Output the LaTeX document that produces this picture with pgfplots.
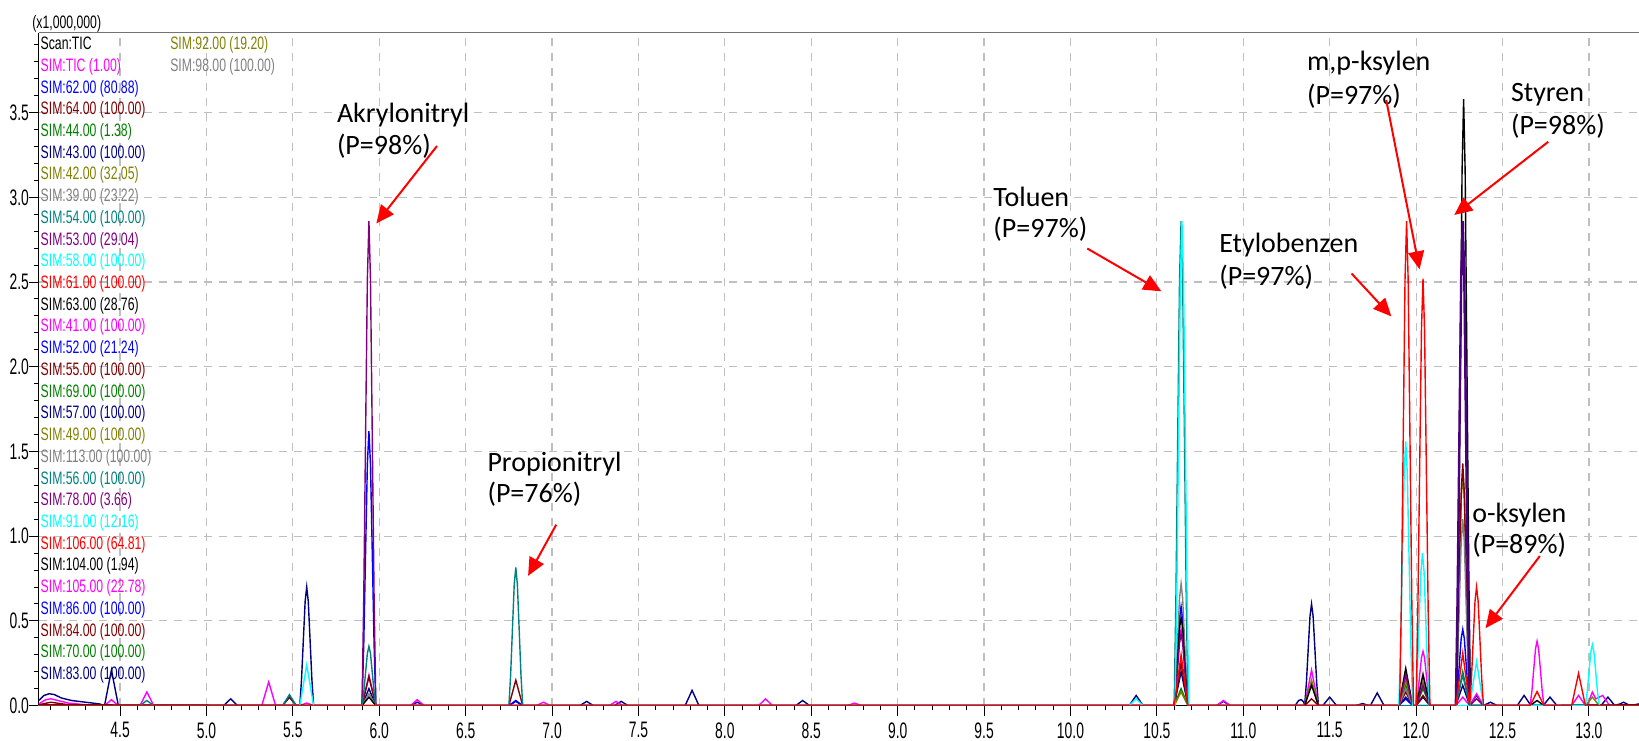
\documentclass[border=0pt]{standalone}
\usepackage{fontspec}
\setmainfont{Liberation Sans}
\newfontfamily\narrowf[FakeStretch=0.68]{Liberation Sans}
\newfontfamily\tickf[FakeStretch=0.62]{Liberation Sans}
\newfontfamily\calib{Carlito}
\usepackage{pgfplots}
\pgfplotsset{compat=1.18}
\usetikzlibrary{arrows.meta}
\definecolor{cNavy}{RGB}{0,0,128}
\definecolor{cBlue}{RGB}{0,0,255}
\definecolor{cMaroon}{RGB}{128,0,0}
\definecolor{cGreen}{RGB}{0,128,0}
\definecolor{cOlive}{RGB}{128,128,0}
\definecolor{cGray}{RGB}{128,128,128}
\definecolor{cTeal}{RGB}{0,128,128}
\definecolor{cPurple}{RGB}{128,0,128}
\definecolor{cCyan}{RGB}{0,255,255}
\definecolor{cRed}{RGB}{255,0,0}
\definecolor{cBlack}{RGB}{0,0,0}
\definecolor{cMagenta}{RGB}{255,0,255}
\definecolor{cIndigo}{RGB}{75,0,130}
\begin{document}
\begin{tikzpicture}
\begin{axis}[
 at={(0pt,0pt)}, anchor=south west,
 scale only axis, width=800.15pt, height=336.3pt,
 xmin=4.029, xmax=13.29, ymin=0, ymax=3.97,
 axis x line=bottom, axis y line=left,
 axis line style={-, black, line width=0.6pt},
 xtick={4.5,5,5.5,6,6.5,7,7.5,8,8.5,9,9.5,10,10.5,11,11.5,12,12.5,13},
 xticklabels={4.5,5.0,5.5,6.0,6.5,7.0,7.5,8.0,8.5,9.0,9.5,10.0,10.5,11.0,11.5,12.0,12.5,13.0},
 ytick={0,0.5,1,1.5,2,2.5,3,3.5},
 yticklabels={0.0,0.5,1.0,1.5,2.0,2.5,3.0,3.5},
 minor xtick={4.1,4.2,...,13.25}, minor ytick={0.1,0.2,...,3.95},
 tick align=outside, major tick length=5pt, minor tick length=2.3pt,
 tick style={black, line width=0.5pt},
 grid=major, major grid style={dash pattern=on 4pt off 3.5pt, line width=0.6pt, color=black!25},
 xticklabel style={font=\tickf\fontsize{11.2}{12}\selectfont, inner sep=0.5pt, yshift=-2.7pt},
 yticklabel style={font=\tickf\fontsize{11.2}{12}\selectfont, inner sep=0pt, xshift=0.3pt},
 every axis plot/.append style={line width=0.7pt, mark=none},
]
% navy
\addplot[cNavy] coordinates {(4.029,0.03) (4.06,0.06) (4.09,0.07) (4.12,0.065) (4.16,0.045) (4.22,0.03) (4.3,0.02) (4.38,0.01)
(4.41,0) (4.43,0.105) (4.45,0.21) (4.47,0.105) (4.49,0)
(5.10,0) (5.12,0.02) (5.14,0.04) (5.16,0.02) (5.18,0)
(5.44,0) (5.46,0.025) (5.48,0.05) (5.50,0.025) (5.52,0)
(5.54,0) (5.55,0.154) (5.562,0.42) (5.571,0.616) (5.58,0.70) (5.589,0.616) (5.598,0.42) (5.61,0.154) (5.62,0)
(5.90,0) (5.92,0.05) (5.94,0.1) (5.96,0.05) (5.98,0)
(6.18,0) (6.20,0.01) (6.22,0.02) (6.24,0.01) (6.26,0)
(6.75,0) (6.77,0.012) (6.79,0.025) (6.81,0.012) (6.83,0)
(7.16,0) (7.18,0.012) (7.20,0.025) (7.22,0.012) (7.24,0)
(7.36,0) (7.38,0.012) (7.40,0.025) (7.42,0.012) (7.44,0)
(7.77,0) (7.79,0.045) (7.81,0.09) (7.83,0.045) (7.85,0)
(8.41,0) (8.43,0.015) (8.45,0.03) (8.47,0.015) (8.49,0)
(10.34,0) (10.36,0.03) (10.38,0.06) (10.40,0.03) (10.42,0)
(10.60,0) (10.62,0.1) (10.64,0.2) (10.66,0.1) (10.68,0)
(10.845,0) (10.865,0.012) (10.885,0.025) (10.905,0.012) (10.925,0)
(11.30,0) (11.32,0.03) (11.335,0.035) (11.35,0.02)
(11.355,0) (11.365,0.132) (11.377,0.36) (11.386,0.528) (11.395,0.60) (11.404,0.528) (11.413,0.36) (11.425,0.132) (11.435,0)
(11.46,0) (11.48,0.025) (11.50,0.05) (11.52,0.025) (11.54,0)
(11.65,0) (11.67,0.006) (11.69,0.012) (11.71,0.006) (11.73,0)
(11.735,0) (11.755,0.037) (11.775,0.075) (11.795,0.037) (11.815,0)
(11.90,0) (11.92,0.025) (11.94,0.05) (11.96,0.025) (11.98,0)
(12.00,0) (12.02,0.025) (12.04,0.05) (12.06,0.025) (12.08,0)
(12.23,0) (12.25,0.06) (12.27,0.12) (12.29,0.06) (12.31,0)
(12.33,0.03) (12.35,0.06) (12.37,0.03) (12.39,0)
(12.41,0.01) (12.43,0.02) (12.45,0.01) (12.47,0)
(12.585,0) (12.605,0.03) (12.625,0.06) (12.645,0.03) (12.665,0)
(12.735,0) (12.755,0.025) (12.775,0.05) (12.795,0.025) (12.815,0)
(13.07,0) (13.09,0.025) (13.11,0.05) (13.13,0.025) (13.15,0)
(13.18,0.01) (13.2,0.02) (13.22,0.01) (13.24,0) (13.29,0.01)};
% magenta
\addplot[cMagenta] coordinates {(4.029,0.01) (4.07,0.035) (4.10,0.04) (4.14,0.03) (4.2,0.015) (4.3,0.005) (4.4,0)
(4.43,0.017) (4.45,0.035) (4.47,0.017) (4.49,0)
(4.615,0) (4.635,0.04) (4.655,0.08) (4.675,0.04) (4.695,0)
(5.32,0) (5.34,0.07) (5.36,0.14) (5.38,0.07) (5.40,0)
(5.54,0) (5.56,0.008) (5.58,0.015) (5.60,0.008) (5.62,0)
(5.90,0) (5.92,0.09) (5.94,0.18) (5.96,0.09) (5.98,0)
(6.18,0) (6.20,0.017) (6.22,0.035) (6.24,0.017) (6.26,0)
(6.91,0) (6.93,0.01) (6.95,0.02) (6.97,0.01) (6.99,0)
(7.33,0) (7.35,0.012) (7.37,0.025) (7.39,0.012) (7.41,0)
(8.195,0) (8.215,0.02) (8.235,0.04) (8.255,0.02) (8.275,0)
(8.71,0) (8.73,0.008) (8.75,0.015) (8.77,0.008) (8.79,0)
(10.60,0) (10.61,0.099) (10.622,0.27) (10.631,0.396) (10.64,0.45) (10.649,0.396) (10.658,0.27) (10.67,0.099) (10.68,0)
(10.845,0) (10.865,0.015) (10.885,0.03) (10.905,0.015) (10.925,0)
(11.355,0) (11.375,0.105) (11.395,0.21) (11.415,0.105) (11.435,0)
(11.90,0) (11.92,0.1) (11.94,0.2) (11.96,0.1) (11.98,0)
(12.00,0) (12.01,0.07) (12.022,0.192) (12.031,0.282) (12.04,0.32) (12.049,0.282) (12.058,0.192) (12.07,0.07) (12.08,0)
(12.23,0) (12.25,0.025) (12.27,0.05) (12.29,0.025) (12.31,0)
(12.33,0.035) (12.35,0.07) (12.37,0.035) (12.39,0)
(12.66,0) (12.67,0.084) (12.682,0.228) (12.691,0.334) (12.70,0.38) (12.709,0.334) (12.718,0.228) (12.73,0.084) (12.74,0)
(12.90,0) (12.92,0.03) (12.94,0.06) (12.96,0.03) (12.98,0)
(12.99,0) (13.005,0.04) (13.02,0.08) (13.04,0.04) (13.06,0.05) (13.08,0.06) (13.10,0.03) (13.12,0) (13.29,0.005)};
% green
\addplot[cGreen] coordinates {(4.029,0)
(10.60,0) (10.62,0.05) (10.64,0.1) (10.66,0.05) (10.68,0)
(11.355,0) (11.375,0.07) (11.395,0.14) (11.415,0.07) (11.435,0)
(11.90,0) (11.92,0.06) (11.94,0.12) (11.96,0.06) (11.98,0)
(12.00,0) (12.02,0.05) (12.04,0.1) (12.06,0.05) (12.08,0)
(12.23,0) (12.25,0.1) (12.27,0.2) (12.29,0.1) (12.31,0) (13.29,0)};
% olive
\addplot[cOlive] coordinates {(4.029,0)
(10.60,0) (10.62,0.04) (10.64,0.08) (10.66,0.04) (10.68,0)
(11.355,0) (11.375,0.075) (11.395,0.15) (11.415,0.075) (11.435,0)
(11.90,0) (11.92,0.075) (11.94,0.15) (11.96,0.075) (11.98,0)
(12.00,0) (12.02,0.07) (12.04,0.14) (12.06,0.07) (12.08,0)
(12.23,0) (12.24,0.304) (12.252,0.828) (12.261,1.214) (12.27,1.38) (12.279,1.214) (12.288,0.828) (12.30,0.304) (12.31,0)
(12.98,0) (13.00,0.025) (13.02,0.05) (13.04,0.025) (13.06,0) (13.29,0)};
% maroon
\addplot[cMaroon] coordinates {(4.029,0.005) (4.1,0.02) (4.2,0.005) (4.3,0)
(5.44,0) (5.46,0.025) (5.48,0.05) (5.50,0.025) (5.52,0)
(5.90,0) (5.92,0.085) (5.94,0.17) (5.96,0.085) (5.98,0)
(6.75,0) (6.77,0.075) (6.79,0.15) (6.81,0.075) (6.83,0)
(10.60,0) (10.62,0.125) (10.64,0.25) (10.66,0.125) (10.68,0)
(11.355,0) (11.375,0.02) (11.395,0.04) (11.415,0.02) (11.435,0)
(11.90,0) (11.92,0.04) (11.94,0.08) (11.96,0.04) (11.98,0)
(12.00,0) (12.02,0.03) (12.04,0.06) (12.06,0.03) (12.08,0)
(12.23,0) (12.24,0.315) (12.252,0.858) (12.261,1.258) (12.27,1.43) (12.279,1.258) (12.288,0.858) (12.30,0.315) (12.31,0) (13.29,0)};
% blue
\addplot[cBlue] coordinates {(4.029,0)
(5.90,0) (5.91,0.356) (5.922,0.972) (5.931,1.426) (5.94,1.62) (5.949,1.426) (5.958,0.972) (5.97,0.356) (5.98,0)
(6.75,0) (6.77,0.015) (6.79,0.03) (6.81,0.015) (6.83,0)
(10.60,0) (10.61,0.129) (10.622,0.351) (10.631,0.515) (10.64,0.585) (10.649,0.515) (10.658,0.351) (10.67,0.129) (10.68,0)
(11.90,0) (11.92,0.02) (11.94,0.04) (11.96,0.02) (11.98,0)
(12.23,0) (12.24,0.099) (12.252,0.27) (12.261,0.396) (12.27,0.45) (12.279,0.396) (12.288,0.27) (12.30,0.099) (12.31,0) (13.29,0)};
% gray
\addplot[cGray] coordinates {(4.029,0)
(5.90,0) (5.92,0.035) (5.94,0.07) (5.96,0.035) (5.98,0)
(10.60,0) (10.61,0.158) (10.622,0.432) (10.631,0.634) (10.64,0.72) (10.649,0.634) (10.658,0.432) (10.67,0.158) (10.68,0)
(11.90,0) (11.92,0.05) (11.94,0.10) (11.96,0.05) (11.98,0)
(12.00,0) (12.02,0.095) (12.04,0.19) (12.06,0.095) (12.08,0)
(12.23,0) (12.24,0.242) (12.252,0.66) (12.261,0.968) (12.27,1.10) (12.279,0.968) (12.288,0.66) (12.30,0.242) (12.31,0) (13.29,0)};
% black
\addplot[cBlack] coordinates {(4.029,0.005)
(5.90,0) (5.92,0.025) (5.94,0.05) (5.96,0.025) (5.98,0)
(10.60,0) (10.61,0.114) (10.622,0.312) (10.631,0.458) (10.64,0.52) (10.649,0.458) (10.658,0.312) (10.67,0.114) (10.68,0)
(11.355,0) (11.375,0.06) (11.395,0.12) (11.415,0.06) (11.435,0)
(11.90,0) (11.92,0.11) (11.94,0.22) (11.96,0.11) (11.98,0)
(12.00,0) (12.02,0.09) (12.04,0.18) (12.06,0.09) (12.08,0)
(12.235,0) (12.245,0.788) (12.257,2.148) (12.266,3.150) (12.275,3.58) (12.284,3.150) (12.293,2.148) (12.305,0.788) (12.315,0)
(12.66,0) (12.68,0.015) (12.70,0.03) (12.72,0.015) (12.74,0) (13.29,0.005)};
% purple
\addplot[cPurple] coordinates {(4.029,0)
(5.90,0) (5.91,0.629) (5.922,1.716) (5.931,2.517) (5.94,2.86) (5.949,2.517) (5.958,1.716) (5.97,0.629) (5.98,0)
(10.60,0) (10.61,0.092) (10.622,0.252) (10.631,0.37) (10.64,0.42) (10.649,0.37) (10.658,0.252) (10.67,0.092) (10.68,0)
(11.90,0) (11.92,0.09) (11.94,0.18) (11.96,0.09) (11.98,0)
(12.00,0) (12.02,0.06) (12.04,0.12) (12.06,0.06) (12.08,0)
(12.23,0) (12.24,0.629) (12.252,1.716) (12.261,2.517) (12.27,2.86) (12.279,2.517) (12.288,1.716) (12.30,0.629) (12.31,0)
(12.33,0.02) (12.35,0.04) (12.37,0.02) (12.39,0) (13.29,0)};
% indigo
\addplot[cIndigo, line width=1.2pt] coordinates {(12.23,0) (12.24,0.629) (12.252,1.716) (12.261,2.517) (12.27,2.86) (12.279,2.517) (12.288,1.716) (12.30,0.629) (12.31,0)};
% teal
\addplot[cTeal] coordinates {(4.029,0)
(4.615,0) (4.635,0.015) (4.655,0.03) (4.675,0.015) (4.695,0)
(5.44,0) (5.46,0.032) (5.48,0.065) (5.50,0.032) (5.52,0)
(5.90,0) (5.91,0.077) (5.922,0.21) (5.931,0.308) (5.94,0.35) (5.949,0.308) (5.958,0.21) (5.97,0.077) (5.98,0)
(6.75,0) (6.76,0.179) (6.772,0.489) (6.781,0.717) (6.79,0.815) (6.799,0.717) (6.808,0.489) (6.82,0.179) (6.83,0)
(10.60,0) (10.61,0.629) (10.622,1.716) (10.631,2.517) (10.64,2.86) (10.649,2.517) (10.658,1.716) (10.67,0.629) (10.68,0)
(12.23,0) (12.25,0.09) (12.27,0.18) (12.29,0.09) (12.31,0) (13.29,0)};
% cyan
\addplot[cCyan] coordinates {(4.029,0)
(5.54,0) (5.56,0.12) (5.58,0.24) (5.60,0.12) (5.62,0)
(10.34,0) (10.36,0.02) (10.38,0.04) (10.40,0.02) (10.42,0)
(10.605,0) (10.615,0.629) (10.627,1.716) (10.636,2.517) (10.645,2.86) (10.654,2.517) (10.663,1.716) (10.675,0.629) (10.685,0)
(11.90,0) (11.91,0.343) (11.922,0.936) (11.931,1.373) (11.94,1.56) (11.949,1.373) (11.958,0.936) (11.97,0.343) (11.98,0)
(11.997,0) (12.007,0.198) (12.019,0.54) (12.028,0.792) (12.037,0.90) (12.046,0.792) (12.055,0.54) (12.067,0.198) (12.077,0)
(12.31,0) (12.33,0.13) (12.35,0.26) (12.37,0.13) (12.39,0)
(12.98,0) (12.99,0.079) (13.002,0.216) (13.011,0.317) (13.02,0.36) (13.029,0.317) (13.038,0.216) (13.05,0.079) (13.06,0) (13.29,0)};
% red
\addplot[cRed] coordinates {(4.029,0)
(10.60,0) (10.62,0.15) (10.64,0.3) (10.66,0.15) (10.68,0)
(11.905,0) (11.915,0.629) (11.927,1.716) (11.936,2.517) (11.945,2.86) (11.954,2.517) (11.963,1.716) (11.975,0.629) (11.985,0)
(12.00,0) (12.01,0.554) (12.022,1.512) (12.031,2.218) (12.04,2.52) (12.049,2.218) (12.058,1.512) (12.07,0.554) (12.08,0)
(12.23,0) (12.25,0.155) (12.27,0.31) (12.29,0.155) (12.31,0)
(12.32,0.154) (12.332,0.42) (12.341,0.616) (12.35,0.70) (12.359,0.616) (12.368,0.42) (12.38,0.154) (12.39,0)
(12.66,0) (12.68,0.041) (12.70,0.083) (12.72,0.041) (12.74,0)
(12.90,0) (12.92,0.095) (12.94,0.19) (12.96,0.095) (12.98,0) (13.29,0)};
% top border
\draw[black!55, line width=0.5pt] (rel axis cs:0,1) -- (rel axis cs:1,1);
% annotations
\tikzset{lab/.style={anchor=base west, inner sep=0pt, font=\calib\fontsize{14}{16}\selectfont},
 arr/.style={cRed, line width=1pt, -{Triangle[length=9pt,width=8pt]}}}
\node[lab] at (axis cs:5.753,3.44) {Akrylonitryl};
\node[lab] at (axis cs:5.753,3.254) {(P=98\%)};
\draw[arr] (axis cs:6.334,3.303) -- (axis cs:5.983,2.846);
\node[lab] at (axis cs:6.624,1.383) {Propionitryl};
\node[lab] at (axis cs:6.624,1.198) {(P=76\%)};
\draw[arr] (axis cs:7.024,1.068) -- (axis cs:6.861,0.766);
\node[lab] at (axis cs:9.552,2.945) {Toluen};
\node[lab] at (axis cs:9.552,2.760) {(P=97\%)};
\draw[arr] (axis cs:10.097,2.698) -- (axis cs:10.526,2.445);
\node[lab] at (axis cs:10.859,2.673) {Etylobenzen};
\node[lab] at (axis cs:10.859,2.482) {(P=97\%)};
\draw[arr] (axis cs:11.627,2.550) -- (axis cs:11.857,2.297);
\node[lab] at (axis cs:11.367,3.748) {m,p-ksylen};
\node[lab] at (axis cs:11.367,3.550) {(P=97\%)};
\draw[arr] (axis cs:11.827,3.575) -- (axis cs:12.020,2.575);
\node[lab] at (axis cs:12.547,3.563) {Styren};
\node[lab] at (axis cs:12.547,3.371) {(P=98\%)};
\draw[arr] (axis cs:12.765,3.328) -- (axis cs:12.221,2.896);
\node[lab] at (axis cs:12.323,1.080) {o-ksylen};
\node[lab] at (axis cs:12.323,0.895) {(P=89\%)};
\draw[arr] (axis cs:12.716,0.883) -- (axis cs:12.402,0.457);
\end{axis}
% legend text and multiplier
\tikzset{leg/.style={anchor=base west, inner sep=0pt, font=\narrowf\fontsize{9}{10}\selectfont}}
\node[leg] at (-3.35pt,338.6pt) {(x1,000,000)};
\foreach \t/\c [count=\i from 0] in {{Scan:TIC}/cBlack, {SIM:TIC (1.00)}/cMagenta, {SIM:62.00 (80.88)}/cBlue, {SIM:64.00 (100.00)}/cMaroon, {SIM:44.00 (1.38)}/cGreen, {SIM:43.00 (100.00)}/cNavy, {SIM:42.00 (32.05)}/cOlive, {SIM:39.00 (23.22)}/cGray, {SIM:54.00 (100.00)}/cTeal, {SIM:53.00 (29.04)}/cPurple, {SIM:58.00 (100.00)}/cCyan, {SIM:61.00 (100.00)}/cRed, {SIM:63.00 (28.76)}/cBlack, {SIM:41.00 (100.00)}/cMagenta, {SIM:52.00 (21.24)}/cBlue, {SIM:55.00 (100.00)}/cMaroon, {SIM:69.00 (100.00)}/cGreen, {SIM:57.00 (100.00)}/cNavy, {SIM:49.00 (100.00)}/cOlive, {SIM:113.00 (100.00)}/cGray, {SIM:56.00 (100.00)}/cTeal, {SIM:78.00 (3.66)}/cPurple, {SIM:91.00 (12.16)}/cCyan, {SIM:106.00 (64.81)}/cRed, {SIM:104.00 (1.94)}/cBlack, {SIM:105.00 (22.78)}/cMagenta, {SIM:86.00 (100.00)}/cBlue, {SIM:84.00 (100.00)}/cMaroon, {SIM:70.00 (100.00)}/cGreen, {SIM:83.00 (100.00)}/cNavy}
{\node[leg, text=\c] at (0.8pt,{328pt-10.86pt*\i}) {\t};}
\node[leg, text=cOlive] at (65.6pt,328pt) {SIM:92.00 (19.20)};
\node[leg, text=cGray] at (65.6pt,317.14pt) {SIM:98.00 (100.00)};
\pgfresetboundingbox
\path[use as bounding box] (-19.35pt,-17.2pt) rectangle (800.15pt,352.8pt);
\end{tikzpicture}
\end{document}
